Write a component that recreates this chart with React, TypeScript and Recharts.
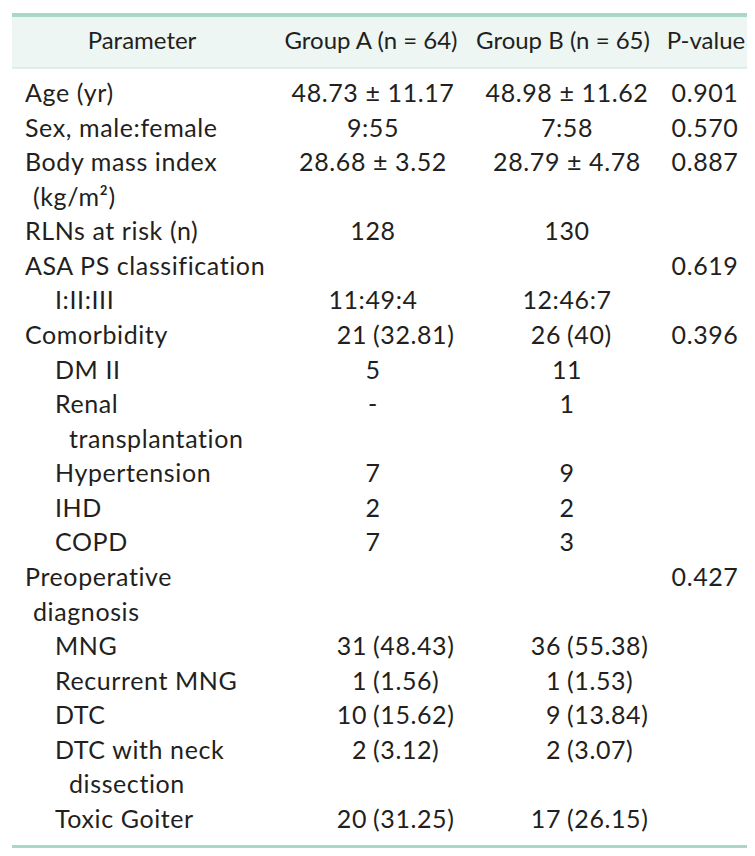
import { ScatterChart, Scatter, XAxis, YAxis, ReferenceArea } from "recharts";

const WIDTH = 755;
const HEIGHT = 856;

const HEADERS = ["Parameter", "Group A (n = 64)", "Group B (n = 65)", "P-value"];

// each parameter may wrap onto a second line
const PARAMETERS: string[][] = [
  ["Age (yr)"],
  ["Sex, male:female"],
  ["Body mass index", "(kg/m²)"],
  ["RLNs at risk (n)"],
  ["ASA PS classification"],
  ["I:II:III"],
  ["Comorbidity"],
  ["DM II"],
  ["Renal", "transplantation"],
  ["Hypertension"],
  ["IHD"],
  ["COPD"],
  ["Preoperative", "diagnosis"],
  ["MNG"],
  ["Recurrent MNG"],
  ["DTC"],
  ["DTC with neck", "dissection"],
  ["Toxic Goiter"],
];

// 0 = main parameter, 1 = sub-item
const LEVELS = [0, 0, 0, 0, 0, 1, 0, 1, 1, 1, 1, 1, 0, 1, 1, 1, 1, 1];

const GROUP_A = [
  "48.73 ± 11.17", "9:55", "28.68 ± 3.52", "128", "", "11:49:4", "21 (32.81)",
  "5", "-", "7", "2", "7", "", "31 (48.43)", "1 (1.56)", "10 (15.62)", "2 (3.12)", "20 (31.25)",
];

const GROUP_B = [
  "48.98 ± 11.62", "7:58", "28.79 ± 4.78", "130", "", "12:46:7", "26 (40)",
  "11", "1", "9", "2", "3", "", "36 (55.38)", "1 (1.53)", "9 (13.84)", "2 (3.07)", "17 (26.15)",
];

const P_VALUES = [
  "0.901", "0.570", "0.887", "", "0.619", "", "0.396",
  "", "", "", "", "", "0.427", "", "", "", "", "",
];

// layout
const HEADER_BASELINE = 49;
const FIRST_BASELINE = 102;
const LINE_PITCH = 34.57;
const HEADER_X = [142, 371, 563, 706];
const COL_A = 373;
const COL_B = 567;
const COL_P = 705;
const TEXT = "#231f20";
const FONT = "Lato, 'Noto Sans', sans-serif";

type Cell = { x: number; y: number; text: string; anchor: "start" | "middle" | "end"; header?: boolean };

function buildCells() {
  const labels: Cell[] = [];
  const values: Cell[] = [];
  const headers: Cell[] = HEADERS.map((h, i) => ({
    x: HEADER_X[i],
    y: HEADER_BASELINE,
    text: h,
    anchor: "middle",
    header: true,
  }));

  const pushValue = (text: string, col: number, y: number) => {
    if (!text) return;
    const m = text.match(/^(\S+) (\(.+\))$/);
    if (m) {
      // counts with percentages line up on the opening bracket
      values.push({ x: col - 6, y, text: m[1], anchor: "end" });
      values.push({ x: col, y, text: m[2], anchor: "start" });
    } else {
      values.push({ x: col, y, text, anchor: "middle" });
    }
  };

  let line = 0;
  PARAMETERS.forEach((lines, i) => {
    const y = FIRST_BASELINE + line * LINE_PITCH;
    lines.forEach((t, j) => {
      const base = LEVELS[i] === 0 ? 25 : 55;
      labels.push({
        x: j === 0 ? base : base + (LEVELS[i] === 0 ? 8 : 14),
        y: y + j * LINE_PITCH,
        text: t,
        anchor: "start",
      });
    });
    pushValue(GROUP_A[i], COL_A, y);
    pushValue(GROUP_B[i], COL_B, y);
    pushValue(P_VALUES[i], COL_P, y);
    line += lines.length;
  });
  return { labels, values, headers };
}

const renderText = (props: any) => {
  const { cx, cy, payload } = props;
  if (payload.header) {
    return (
      <text x={cx} y={cy} textAnchor="middle" fontFamily={FONT} fontSize={24} fill={TEXT}>
        {payload.text}
      </text>
    );
  }
  return (
    <text
      x={cx}
      y={cy}
      textAnchor={payload.anchor}
      fontFamily={FONT}
      fontSize={25}
      letterSpacing={0.6}
      fill={TEXT}
    >
      {payload.text}
    </text>
  );
};

export default function App() {
  const { labels, values, headers } = buildCells();
  return (
    <div style={{ margin: -8, width: WIDTH, height: HEIGHT, background: "#fff" }}>
      <ScatterChart width={WIDTH} height={HEIGHT} margin={{ top: 0, right: 0, bottom: 0, left: 0 }}>
        <XAxis type="number" dataKey="x" domain={[0, WIDTH]} hide />
        <YAxis type="number" dataKey="y" domain={[0, HEIGHT]} reversed hide />
        <ReferenceArea x1={12} x2={753} y1={17} y2={68} fill="#edf6f2" fillOpacity={1} stroke="none" />
        <ReferenceArea x1={12} x2={753} y1={13} y2={17} fill="#a8d8c7" fillOpacity={1} stroke="none" />
        <ReferenceArea x1={12} x2={753} y1={67.5} y2={68.5} fill="#c6e3d9" fillOpacity={1} stroke="none" />
        <ReferenceArea x1={12} x2={753} y1={845} y2={850} fill="#a8d8c7" fillOpacity={1} stroke="none" />
        <Scatter data={headers} shape={renderText} isAnimationActive={false} />
        <Scatter data={labels} shape={renderText} isAnimationActive={false} />
        <Scatter data={values} shape={renderText} isAnimationActive={false} />
      </ScatterChart>
    </div>
  );
}
